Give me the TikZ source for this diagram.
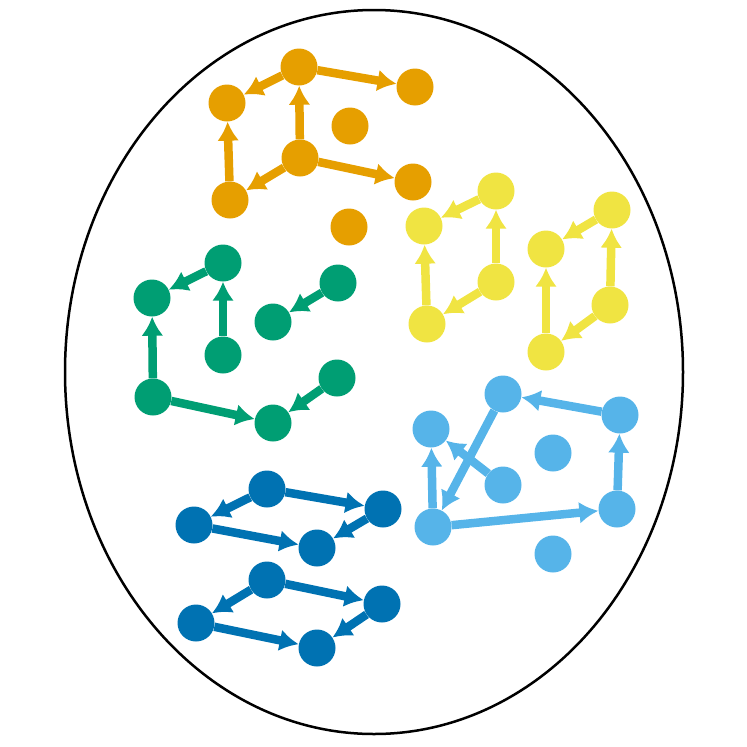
\documentclass[tikz,border=0pt]{standalone}
\usetikzlibrary{arrows.meta}

\definecolor{cOrange}{HTML}{E69F00}
\definecolor{cGreen}{HTML}{009E73}
\definecolor{cYellow}{HTML}{F0E442}
\definecolor{cSky}{HTML}{56B4E9}
\definecolor{cBlue}{HTML}{0072B2}

\begin{document}
\begin{tikzpicture}[
  x=1pt, y=-1pt,
  >={Latex[length=19pt, width=22pt]},
  dot/.style={circle, fill=#1, minimum size=37pt, inner sep=0pt},
  link/.style={->, line width=8.5pt, draw=#1},
]

% ── Canvas and outer ellipse ──────────────────────────────────────────────────
\useasboundingbox (0,0) rectangle (747,747);
\draw[line width=2.5pt] (374,372) ellipse (309pt and 362pt);

% ── Orange group ─────────────────────────────────────────────────────────────
\node[dot=cOrange] (O1) at (299, 67) {};
\node[dot=cOrange] (O2) at (227,103) {};
\node[dot=cOrange] (O3) at (415, 87) {};
\node[dot=cOrange] (O4) at (300,158) {};
\node[dot=cOrange] (O5) at (230,200) {};
\node[dot=cOrange] (O6) at (413,182) {};
\node[dot=cOrange] (O7) at (350,126) {};   % isolated
\node[dot=cOrange] (O8) at (349,227) {};   % isolated

\draw[link=cOrange] (O1) -- (O2);
\draw[link=cOrange] (O5) -- (O2);
\draw[link=cOrange] (O4) -- (O1);
\draw[link=cOrange] (O4) -- (O5);
\draw[link=cOrange] (O1) -- (O3);
\draw[link=cOrange] (O4) -- (O6);

% ── Green group ──────────────────────────────────────────────────────────────
\node[dot=cGreen] (G1) at (223,263) {};
\node[dot=cGreen] (G2) at (152,298) {};
\node[dot=cGreen] (G3) at (223,355) {};
\node[dot=cGreen] (G4) at (153,397) {};
\node[dot=cGreen] (G5) at (273,423) {};
\node[dot=cGreen] (G6) at (338,283) {};
\node[dot=cGreen] (G7) at (273,322) {};
\node[dot=cGreen] (G8) at (337,378) {};

\draw[link=cGreen] (G1) -- (G2);
\draw[link=cGreen] (G4) -- (G2);
\draw[link=cGreen] (G3) -- (G1);
\draw[link=cGreen] (G4) -- (G5);
\draw[link=cGreen] (G8) -- (G5);
\draw[link=cGreen] (G6) -- (G7);

% ── Yellow group (two parallelograms) ────────────────────────────────────────
\node[dot=cYellow] (Y1) at (496,191) {};
\node[dot=cYellow] (Y2) at (424,226) {};
\node[dot=cYellow] (Y3) at (496,282) {};
\node[dot=cYellow] (Y4) at (427,324) {};
\node[dot=cYellow] (Y5) at (612,210) {};
\node[dot=cYellow] (Y6) at (546,249) {};
\node[dot=cYellow] (Y7) at (610,305) {};
\node[dot=cYellow] (Y8) at (546,352) {};

\draw[link=cYellow] (Y1) -- (Y2);
\draw[link=cYellow] (Y4) -- (Y2);
\draw[link=cYellow] (Y3) -- (Y1);
\draw[link=cYellow] (Y3) -- (Y4);
\draw[link=cYellow] (Y5) -- (Y6);
\draw[link=cYellow] (Y8) -- (Y6);
\draw[link=cYellow] (Y7) -- (Y5);
\draw[link=cYellow] (Y7) -- (Y8);

% ── Sky-blue group ───────────────────────────────────────────────────────────
\node[dot=cSky] (S1) at (503,394) {};
\node[dot=cSky] (S2) at (431,429) {};
\node[dot=cSky] (S3) at (620,415) {};
\node[dot=cSky] (S4) at (503,485) {};
\node[dot=cSky] (S5) at (553,453) {};   % isolated
\node[dot=cSky] (S6) at (433,527) {};
\node[dot=cSky] (S7) at (617,509) {};
\node[dot=cSky] (S8) at (553,554) {};   % isolated

\draw[link=cSky] (S3) -- (S1);
\draw[link=cSky] (S1) -- (S6);
\draw[link=cSky] (S6) -- (S2);
\draw[link=cSky] (S4) -- (S2);
\draw[link=cSky] (S6) -- (S7);
\draw[link=cSky] (S7) -- (S3);

% ── Dark-blue group (two parallelograms) ─────────────────────────────────────
\node[dot=cBlue] (B1) at (267,489) {};
\node[dot=cBlue] (B2) at (194,525) {};
\node[dot=cBlue] (B3) at (383,509) {};
\node[dot=cBlue] (B4) at (317,548) {};
\node[dot=cBlue] (B5) at (267,580) {};
\node[dot=cBlue] (B6) at (196,623) {};
\node[dot=cBlue] (B7) at (382,604) {};
\node[dot=cBlue] (B8) at (317,648) {};

\draw[link=cBlue] (B1) -- (B2);
\draw[link=cBlue] (B1) -- (B3);
\draw[link=cBlue] (B2) -- (B4);
\draw[link=cBlue] (B3) -- (B4);
\draw[link=cBlue] (B5) -- (B6);
\draw[link=cBlue] (B5) -- (B7);
\draw[link=cBlue] (B6) -- (B8);
\draw[link=cBlue] (B7) -- (B8);

\end{tikzpicture}
\end{document}
